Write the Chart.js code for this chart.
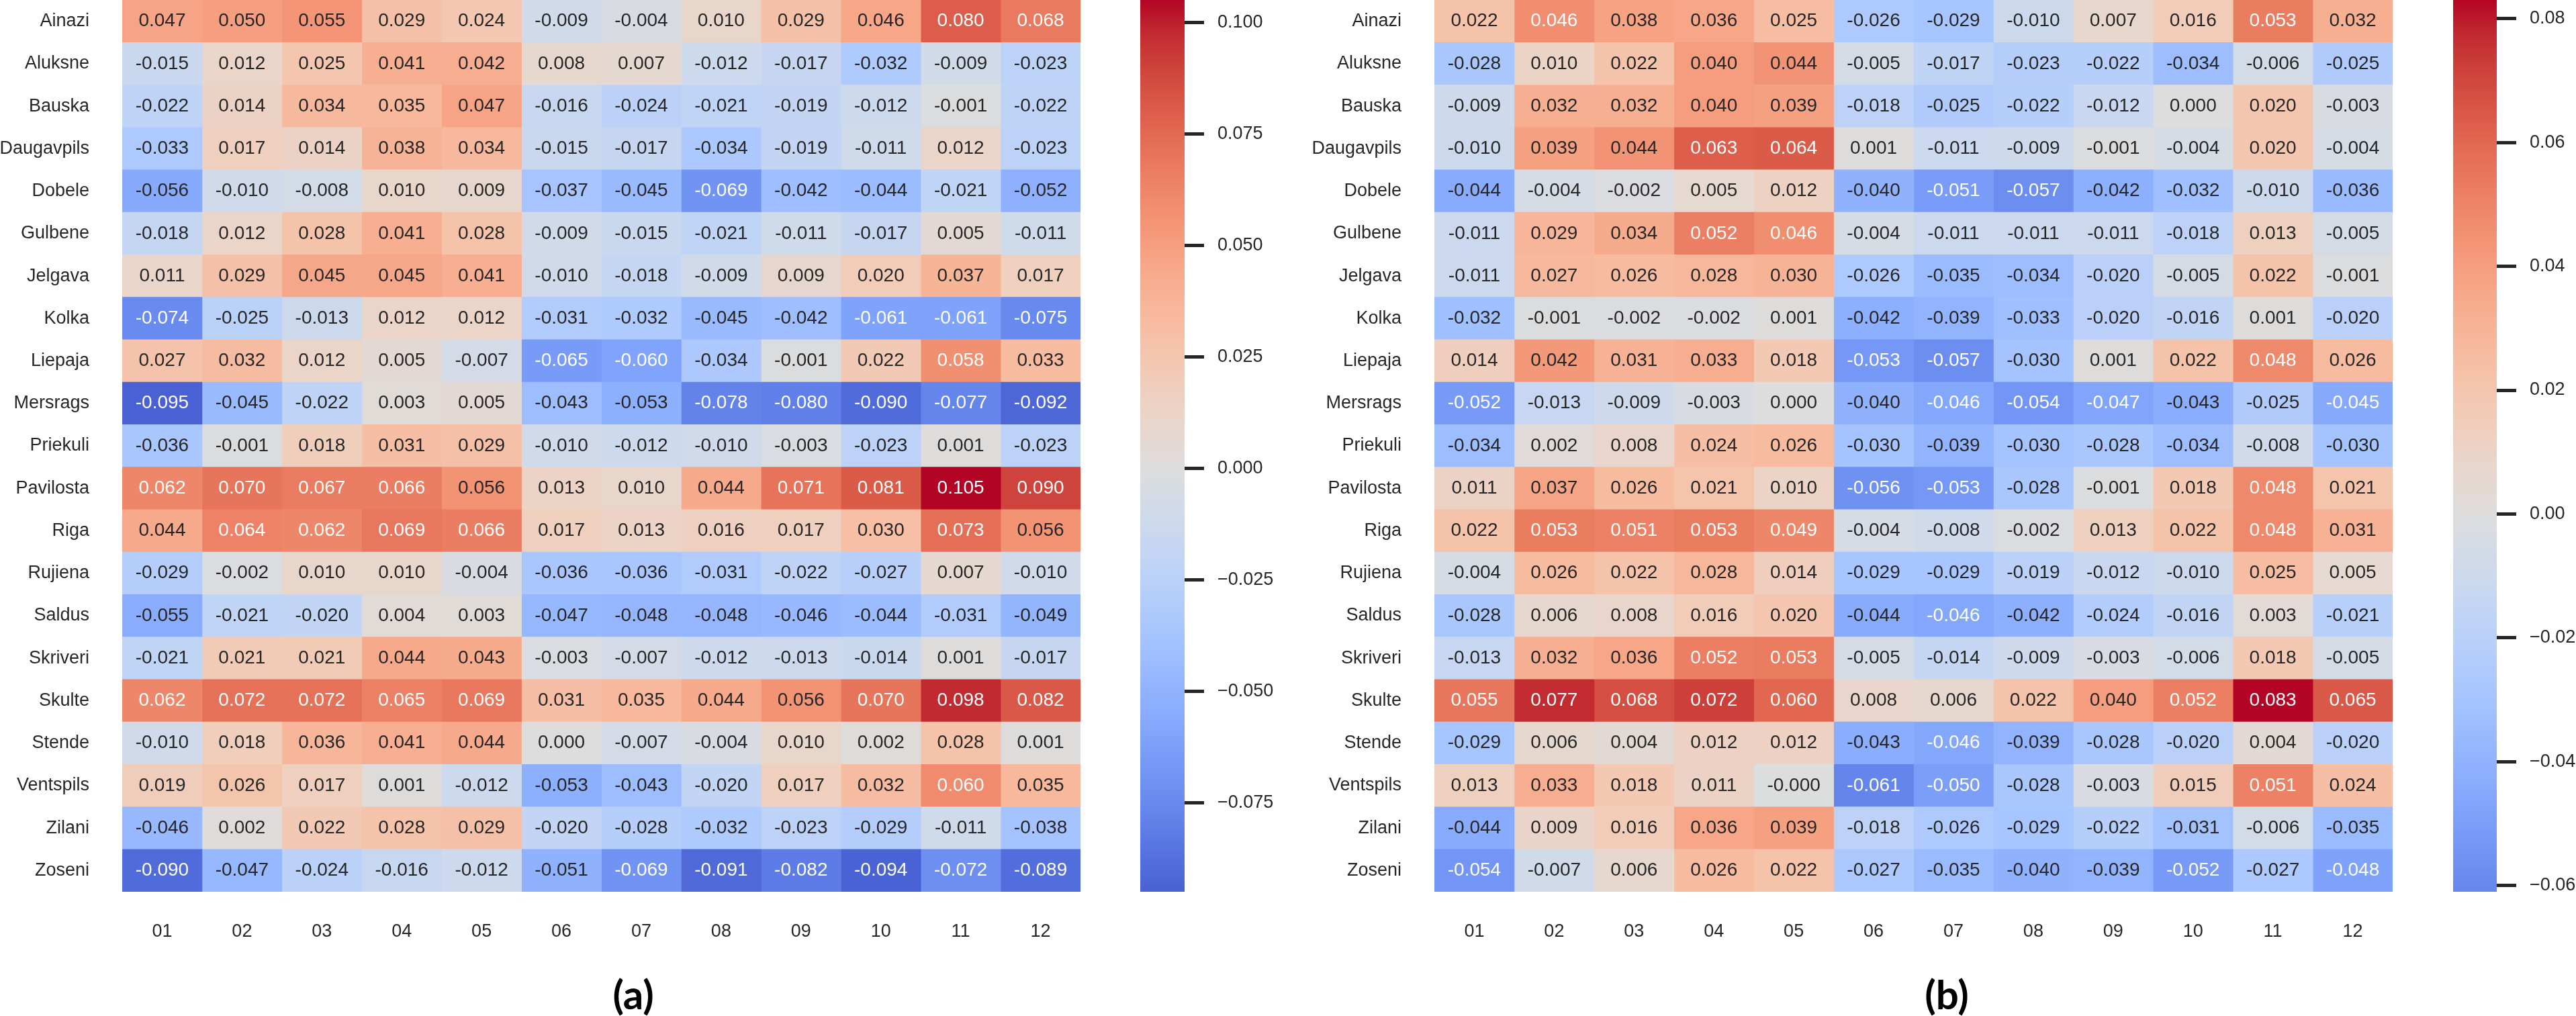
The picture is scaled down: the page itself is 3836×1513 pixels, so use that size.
<!DOCTYPE html>
<html>
<head>
<meta charset="utf-8">
<script src="https://cdn.jsdelivr.net/npm/chart.js@4.4.1/dist/chart.umd.min.js"></script>
<style>
    body { margin: 0; width: 3836px; height: 1513px; background: #ffffff; position: relative; overflow: hidden; }
    .box { position: absolute; }
    .panel-title { position: absolute; top: 1440px; width: 200px; text-align: center; font: 700 60px Lato, "Open Sans", sans-serif; line-height: 80px; color: #000; }
</style>
</head>
<body>
<div class="box" style="left:0px;top:0px;width:1609px;height:1420px"><canvas id="heatA"></canvas></div>
<div class="box" style="left:1698px;top:0px;width:220px;height:1360px"><canvas id="barA"></canvas></div>
<div class="box" style="left:1920px;top:0px;width:1643px;height:1420px"><canvas id="heatB"></canvas></div>
<div class="box" style="left:3653px;top:0px;width:183px;height:1360px"><canvas id="barB"></canvas></div>
<div class="panel-title" style="left:843px">(a)</div>
<div class="panel-title" style="left:2799px">(b)</div>
<script>
// rows and columns of both heatmaps
const stations = ['Ainazi', 'Aluksne', 'Bauska', 'Daugavpils', 'Dobele', 'Gulbene', 'Jelgava', 'Kolka',
    'Liepaja', 'Mersrags', 'Priekuli', 'Pavilosta', 'Riga', 'Rujiena', 'Saldus', 'Skriveri', 'Skulte',
    'Stende', 'Ventspils', 'Zilani', 'Zoseni'];
const months = ['01', '02', '03', '04', '05', '06', '07', '08', '09', '10', '11', '12'];

// panel (a)
const valuesA = [
    [0.047, 0.050, 0.055, 0.029, 0.024, -0.009, -0.004, 0.010, 0.029, 0.046, 0.080, 0.068],
    [-0.015, 0.012, 0.025, 0.041, 0.042, 0.008, 0.007, -0.012, -0.017, -0.032, -0.009, -0.023],
    [-0.022, 0.014, 0.034, 0.035, 0.047, -0.016, -0.024, -0.021, -0.019, -0.012, -0.001, -0.022],
    [-0.033, 0.017, 0.014, 0.038, 0.034, -0.015, -0.017, -0.034, -0.019, -0.011, 0.012, -0.023],
    [-0.056, -0.010, -0.008, 0.010, 0.009, -0.037, -0.045, -0.069, -0.042, -0.044, -0.021, -0.052],
    [-0.018, 0.012, 0.028, 0.041, 0.028, -0.009, -0.015, -0.021, -0.011, -0.017, 0.005, -0.011],
    [0.011, 0.029, 0.045, 0.045, 0.041, -0.010, -0.018, -0.009, 0.009, 0.020, 0.037, 0.017],
    [-0.074, -0.025, -0.013, 0.012, 0.012, -0.031, -0.032, -0.045, -0.042, -0.061, -0.061, -0.075],
    [0.027, 0.032, 0.012, 0.005, -0.007, -0.065, -0.060, -0.034, -0.001, 0.022, 0.058, 0.033],
    [-0.095, -0.045, -0.022, 0.003, 0.005, -0.043, -0.053, -0.078, -0.080, -0.090, -0.077, -0.092],
    [-0.036, -0.001, 0.018, 0.031, 0.029, -0.010, -0.012, -0.010, -0.003, -0.023, 0.001, -0.023],
    [0.062, 0.070, 0.067, 0.066, 0.056, 0.013, 0.010, 0.044, 0.071, 0.081, 0.105, 0.090],
    [0.044, 0.064, 0.062, 0.069, 0.066, 0.017, 0.013, 0.016, 0.017, 0.030, 0.073, 0.056],
    [-0.029, -0.002, 0.010, 0.010, -0.004, -0.036, -0.036, -0.031, -0.022, -0.027, 0.007, -0.010],
    [-0.055, -0.021, -0.020, 0.004, 0.003, -0.047, -0.048, -0.048, -0.046, -0.044, -0.031, -0.049],
    [-0.021, 0.021, 0.021, 0.044, 0.043, -0.003, -0.007, -0.012, -0.013, -0.014, 0.001, -0.017],
    [0.062, 0.072, 0.072, 0.065, 0.069, 0.031, 0.035, 0.044, 0.056, 0.070, 0.098, 0.082],
    [-0.010, 0.018, 0.036, 0.041, 0.044, 0.000, -0.007, -0.004, 0.010, 0.002, 0.028, 0.001],
    [0.019, 0.026, 0.017, 0.001, -0.012, -0.053, -0.043, -0.020, 0.017, 0.032, 0.060, 0.035],
    [-0.046, 0.002, 0.022, 0.028, 0.029, -0.020, -0.028, -0.032, -0.023, -0.029, -0.011, -0.038],
    [-0.090, -0.047, -0.024, -0.016, -0.012, -0.051, -0.069, -0.091, -0.082, -0.094, -0.072, -0.089]
];

// panel (b)
const valuesB = [
    [0.022, 0.046, 0.038, 0.036, 0.025, -0.026, -0.029, -0.010, 0.007, 0.016, 0.053, 0.032],
    [-0.028, 0.010, 0.022, 0.040, 0.044, -0.005, -0.017, -0.023, -0.022, -0.034, -0.006, -0.025],
    [-0.009, 0.032, 0.032, 0.040, 0.039, -0.018, -0.025, -0.022, -0.012, 0.000, 0.020, -0.003],
    [-0.010, 0.039, 0.044, 0.063, 0.064, 0.001, -0.011, -0.009, -0.001, -0.004, 0.020, -0.004],
    [-0.044, -0.004, -0.002, 0.005, 0.012, -0.040, -0.051, -0.057, -0.042, -0.032, -0.010, -0.036],
    [-0.011, 0.029, 0.034, 0.052, 0.046, -0.004, -0.011, -0.011, -0.011, -0.018, 0.013, -0.005],
    [-0.011, 0.027, 0.026, 0.028, 0.030, -0.026, -0.035, -0.034, -0.020, -0.005, 0.022, -0.001],
    [-0.032, -0.001, -0.002, -0.002, 0.001, -0.042, -0.039, -0.033, -0.020, -0.016, 0.001, -0.020],
    [0.014, 0.042, 0.031, 0.033, 0.018, -0.053, -0.057, -0.030, 0.001, 0.022, 0.048, 0.026],
    [-0.052, -0.013, -0.009, -0.003, 0.000, -0.040, -0.046, -0.054, -0.047, -0.043, -0.025, -0.045],
    [-0.034, 0.002, 0.008, 0.024, 0.026, -0.030, -0.039, -0.030, -0.028, -0.034, -0.008, -0.030],
    [0.011, 0.037, 0.026, 0.021, 0.010, -0.056, -0.053, -0.028, -0.001, 0.018, 0.048, 0.021],
    [0.022, 0.053, 0.051, 0.053, 0.049, -0.004, -0.008, -0.002, 0.013, 0.022, 0.048, 0.031],
    [-0.004, 0.026, 0.022, 0.028, 0.014, -0.029, -0.029, -0.019, -0.012, -0.010, 0.025, 0.005],
    [-0.028, 0.006, 0.008, 0.016, 0.020, -0.044, -0.046, -0.042, -0.024, -0.016, 0.003, -0.021],
    [-0.013, 0.032, 0.036, 0.052, 0.053, -0.005, -0.014, -0.009, -0.003, -0.006, 0.018, -0.005],
    [0.055, 0.077, 0.068, 0.072, 0.060, 0.008, 0.006, 0.022, 0.040, 0.052, 0.083, 0.065],
    [-0.029, 0.006, 0.004, 0.012, 0.012, -0.043, -0.046, -0.039, -0.028, -0.020, 0.004, -0.020],
    [0.013, 0.033, 0.018, 0.011, -0.0004, -0.061, -0.050, -0.028, -0.003, 0.015, 0.051, 0.024],
    [-0.044, 0.009, 0.016, 0.036, 0.039, -0.018, -0.026, -0.029, -0.022, -0.031, -0.006, -0.035],
    [-0.054, -0.007, 0.006, 0.026, 0.022, -0.027, -0.035, -0.040, -0.039, -0.052, -0.027, -0.048]
];

// colorbar tick values
const cbTicksA = [-0.075, -0.05, -0.025, 0, 0.025, 0.05, 0.075, 0.1];
const cbTicksB = [-0.06, -0.04, -0.02, 0, 0.02, 0.04, 0.06, 0.08];

// matplotlib coolwarm, 33 knots
const cwRed = [0.2298057, 0.26623388, 0.30386891, 0.342804478, 0.38301334, 0.424369608, 0.46666708, 0.509635204,
    0.552953156, 0.596262162, 0.639176211, 0.681291281, 0.722193294, 0.761464949, 0.798691636, 0.833466556,
    0.865395197, 0.897787179, 0.924127593, 0.944468518, 0.958852946, 0.96732803, 0.969954137, 0.966811177,
    0.958003065, 0.943660866, 0.923944917, 0.89904617, 0.869186849, 0.834620542, 0.795631745, 0.752534934, 0.705673158];
const cwGreen = [0.298717966, 0.353094838, 0.406535296, 0.458757618, 0.50941904, 0.558148092, 0.604562568, 0.648280772,
    0.688929332, 0.726149107, 0.759599947, 0.788964712, 0.813952739, 0.834302879, 0.849786142, 0.860207984,
    0.86541021, 0.848937047, 0.827384882, 0.800927443, 0.769767752, 0.734132809, 0.694266682, 0.650421156,
    0.602842431, 0.551750968, 0.49730856, 0.439559467, 0.378313092, 0.312874446, 0.24128379, 0.157246067, 0.01555616];
const cwBlue = [0.753683153, 0.801466763, 0.84495867, 0.883725899, 0.917387822, 0.945619588, 0.968154911, 0.98478814,
    0.995375608, 0.999836203, 0.998151185, 0.990363227, 0.976574709, 0.956945269, 0.931688648, 0.901068838,
    0.865395561, 0.820880546, 0.774508472, 0.726736146, 0.678007945, 0.628751763, 0.579375448, 0.530263762,
    0.481775914, 0.434243684, 0.387970225, 0.343229596, 0.300267182, 0.259301199, 0.220525627, 0.184115123, 0.150232812];

Chart.defaults.font.family = '"Liberation Sans", Arial, sans-serif';
Chart.defaults.font.size = 27;
Chart.defaults.color = '#262626';

function coolwarm(t) {
    t = Math.min(1, Math.max(0, t));
    const pos = t * 32;
    const i = Math.min(31, Math.floor(pos));
    const f = pos - i;
    return [cwRed, cwGreen, cwBlue].map(ch => ch[i] + (ch[i + 1] - ch[i]) * f);
}

function toCss(rgb) {
    return 'rgb(' + rgb.map(c => Math.round(c * 255)).join(',') + ')';
}

// centred at zero like seaborn's center=0
function makeNorm(values) {
    const flat = values.flat();
    const vmin = Math.min(...flat);
    const vmax = Math.max(...flat);
    const vrange = Math.max(vmax, -vmin);
    return { vmin: vmin, vmax: vmax, toT: v => 0.5 + v / (2 * vrange) };
}

function textColorFor(rgb) {
    const lin = rgb.map(c => c <= 0.03928 ? c / 12.92 : Math.pow((c + 0.055) / 1.055, 2.4));
    const lum = 0.2126 * lin[0] + 0.7152 * lin[1] + 0.0722 * lin[2];
    return lum > 0.408 ? '#262626' : '#ffffff';
}

function buildHeatmap(canvasId, values, yAxisWidth) {
    const norm = makeNorm(values);
    const datasets = months.map((m, c) => ({
        label: m,
        data: stations.map(() => [c, c + 1]),
        backgroundColor: stations.map((s, r) => toCss(coolwarm(norm.toT(values[r][c])))),
        borderWidth: 0,
        barPercentage: 1,
        categoryPercentage: 1,
        grouped: false
    }));

    const annotate = {
        id: 'annotate',
        afterDatasetsDraw(chart) {
            const ctx = chart.ctx;
            ctx.save();
            ctx.font = '28px "Liberation Sans", Arial, sans-serif';
            ctx.textAlign = 'center';
            ctx.textBaseline = 'middle';
            chart.data.datasets.forEach((ds, c) => {
                chart.getDatasetMeta(c).data.forEach((bar, r) => {
                    const v = values[r][c];
                    ctx.fillStyle = textColorFor(coolwarm(norm.toT(v)));
                    ctx.fillText(v.toFixed(3), (bar.x + bar.base) / 2, bar.y);
                });
            });
            ctx.restore();
        }
    };

    return new Chart(document.getElementById(canvasId), {
        type: 'bar',
        data: { labels: stations, datasets: datasets },
        plugins: [annotate],
        options: {
            indexAxis: 'y',
            responsive: true,
            maintainAspectRatio: false,
            animation: false,
            devicePixelRatio: 1,
            layout: { padding: 0 },
            plugins: { legend: { display: false }, tooltip: { enabled: false } },
            scales: {
                x: {
                    type: 'linear',
                    min: 0,
                    max: months.length,
                    bounds: 'data',
                    grid: { display: false, drawTicks: false },
                    border: { display: false },
                    ticks: {
                        autoSkip: false,
                        maxRotation: 0,
                        padding: 43,
                        callback: (val, i) => months[i]
                    },
                    afterBuildTicks: scale => {
                        scale.ticks = months.map((m, i) => ({ value: i + 0.5 }));
                    },
                    afterFit: scale => {
                        scale.height = 92;
                        scale.paddingLeft = 0;
                        scale.paddingRight = 0;
                    }
                },
                y: {
                    type: 'category',
                    grid: { display: false, drawTicks: false },
                    border: { display: false },
                    ticks: { autoSkip: false, padding: 49 },
                    afterFit: scale => {
                        scale.width = yAxisWidth;
                        scale.paddingTop = 0;
                        scale.paddingBottom = 0;
                    }
                }
            }
        }
    });
}

function buildColorbar(canvasId, values, tickValues, digits, barWidth) {
    const norm = makeNorm(values);
    let gradient = null;
    const fill = (context) => {
        const area = context.chart.chartArea;
        if (!area) return null;
        if (!gradient) {
            gradient = context.chart.ctx.createLinearGradient(0, area.bottom, 0, area.top);
            const t0 = norm.toT(norm.vmin);
            const t1 = norm.toT(norm.vmax);
            for (let k = 0; k <= 64; k++) {
                const s = k / 64;
                gradient.addColorStop(s, toCss(coolwarm(t0 + (t1 - t0) * s)));
            }
        }
        return gradient;
    };

    return new Chart(document.getElementById(canvasId), {
        type: 'bar',
        data: {
            labels: [''],
            datasets: [{
                data: [[norm.vmin, norm.vmax]],
                backgroundColor: fill,
                borderWidth: 0,
                barPercentage: 1,
                categoryPercentage: 1
            }]
        },
        options: {
            responsive: true,
            maintainAspectRatio: false,
            animation: false,
            devicePixelRatio: 1,
            layout: { padding: { top: 0, bottom: 32, left: 0, right: 0 } },
            plugins: { legend: { display: false }, tooltip: { enabled: false } },
            scales: {
                x: { display: false },
                y: {
                    position: 'right',
                    min: norm.vmin,
                    max: norm.vmax,
                    bounds: 'data',
                    grid: {
                        drawOnChartArea: false,
                        drawTicks: true,
                        tickLength: 29,
                        tickWidth: 5,
                        tickColor: '#262626'
                    },
                    border: { display: false },
                    ticks: {
                        padding: 20,
                        callback: val => val.toFixed(digits).replace('-', '\u2212')
                    },
                    afterBuildTicks: scale => {
                        scale.ticks = tickValues.map(v => ({ value: v }));
                    },
                    afterFit: scale => {
                        scale.width = scale.chart.width - barWidth;
                        scale.paddingTop = 0;
                        scale.paddingBottom = 0;
                    }
                }
            }
        }
    });
}

buildHeatmap('heatA', valuesA, 182);
buildColorbar('barA', valuesA, cbTicksA, 3, 66);
buildHeatmap('heatB', valuesB, 216);
buildColorbar('barB', valuesB, cbTicksB, 2, 65);
</script>
</body>
</html>
